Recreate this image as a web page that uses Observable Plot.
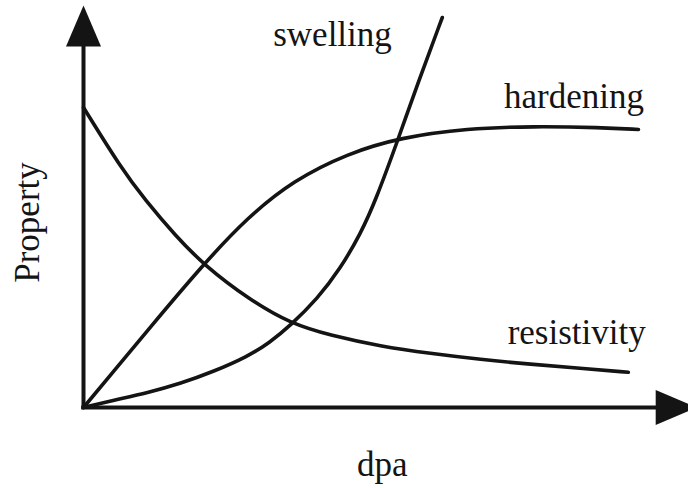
<!DOCTYPE html>
<html>
<head>
<meta charset="utf-8">
<script src="https://cdn.jsdelivr.net/npm/d3@7"></script>
<script src="https://cdn.jsdelivr.net/npm/@observablehq/plot@0.6"></script>
<style>
  html, body { margin: 0; padding: 0; background: #fff; }
  svg text, svg g { font-family: "Liberation Serif", "Times New Roman", Times, "DejaVu Serif", serif !important; }
</style>
</head>
<body>
<div id="chart"></div>
<script>
// Schematic curves (arbitrary units): x = dpa, y = property
const resistivityX = [0, 0.62, 1.03, 1.53, 2.0, 2.78, 3.45, 4.12, 4.95, 5.78, 6.62, 7.45, 8.28, 9.08];
const resistivityY = [7.5, 6.0, 5.18, 4.3, 3.57, 2.68, 2.1, 1.8, 1.53, 1.35, 1.2, 1.08, 0.98, 0.88];

const hardeningX = [0, 0.5, 1.07, 1.98, 2.73, 3.5, 4.4, 5.28, 6.4, 7.5, 8.62, 9.25];
const hardeningY = [0, 0.9, 1.93, 3.55, 4.75, 5.68, 6.35, 6.75, 6.98, 7.03, 7.0, 6.95];

const swellingX = [0, 0.5, 1.07, 1.62, 2.17, 2.73, 3.1, 3.45, 3.9, 4.28, 4.62, 4.87, 5.25, 5.57, 5.98];
const swellingY = [0, 0.18, 0.37, 0.6, 0.9, 1.27, 1.62, 2.05, 2.72, 3.47, 4.35, 5.18, 6.73, 8.1, 9.75];

const seriesNames = ["resistivity", "hardening", "swelling"];
const labelX = [8.22, 8.175, 4.15];
const labelY = [1.6, 7.5, 9.05];

const xLabel = "dpa";
const yLabel = "Property";

const toRows = (name, xs, ys) => xs.map((x, i) => ({series: name, x, y: ys[i]}));
const rows = [
  ...toRows("resistivity", resistivityX, resistivityY),
  ...toRows("hardening", hardeningX, hardeningY),
  ...toRows("swelling", swellingX, swellingY)
];
const labels = seriesNames.map((s, i) => ({text: s, x: labelX[i], y: labelY[i]}));

const ink = "#141414";
const serif = "'Liberation Serif', 'Times New Roman', Times, 'DejaVu Serif', serif";
const arrowHead = {
  draw(ctx) {
    ctx.moveTo(0, 0);
    ctx.lineTo(-17.5, 41);
    ctx.lineTo(17.5, 41);
    ctx.closePath();
  }
};

const chart = Plot.plot({
  width: 688,
  height: 488,
  marginLeft: 83,
  marginRight: 5,
  marginTop: 7,
  marginBottom: 81,
  x: {domain: [0, 10], axis: null},
  y: {domain: [0, 10], axis: null},
  style: {background: "#fff"},
  marks: [
    // axes
    Plot.ruleX([0], {y1: -0.05, y2: 9.3, stroke: ink, strokeWidth: 4}),
    Plot.ruleY([0], {x1: -0.03, x2: 9.7, stroke: ink, strokeWidth: 4}),
    Plot.dot([{x: 0, y: 10.05}], {x: "x", y: "y", symbol: arrowHead, fill: ink, stroke: "none", r: 10}),
    Plot.dot([{x: 10.22, y: 0}], {x: "x", y: "y", symbol: arrowHead, fill: ink, stroke: "none", r: 10, rotate: 90}),
    // curves
    Plot.line(rows, {x: "x", y: "y", z: "series", stroke: ink, strokeWidth: 3.6, curve: "basis"}),
    // labels
    Plot.text(labels, {x: "x", y: "y", text: "text", fontSize: 35, fontFamily: serif, fill: ink, textAnchor: "middle", lineAnchor: "bottom"}),
    Plot.text([xLabel], {x: 4.98, y: -1.7, text: d => d, fontSize: 35, fontFamily: serif, fill: ink, textAnchor: "middle", lineAnchor: "bottom"}),
    Plot.text([yLabel], {x: -0.75, y: 4.625, text: d => d, fontSize: 35, fontFamily: serif, fill: ink, textAnchor: "middle", lineAnchor: "bottom", rotate: -90})
  ]
});
document.getElementById("chart").appendChild(chart);
</script>
</body>
</html>
